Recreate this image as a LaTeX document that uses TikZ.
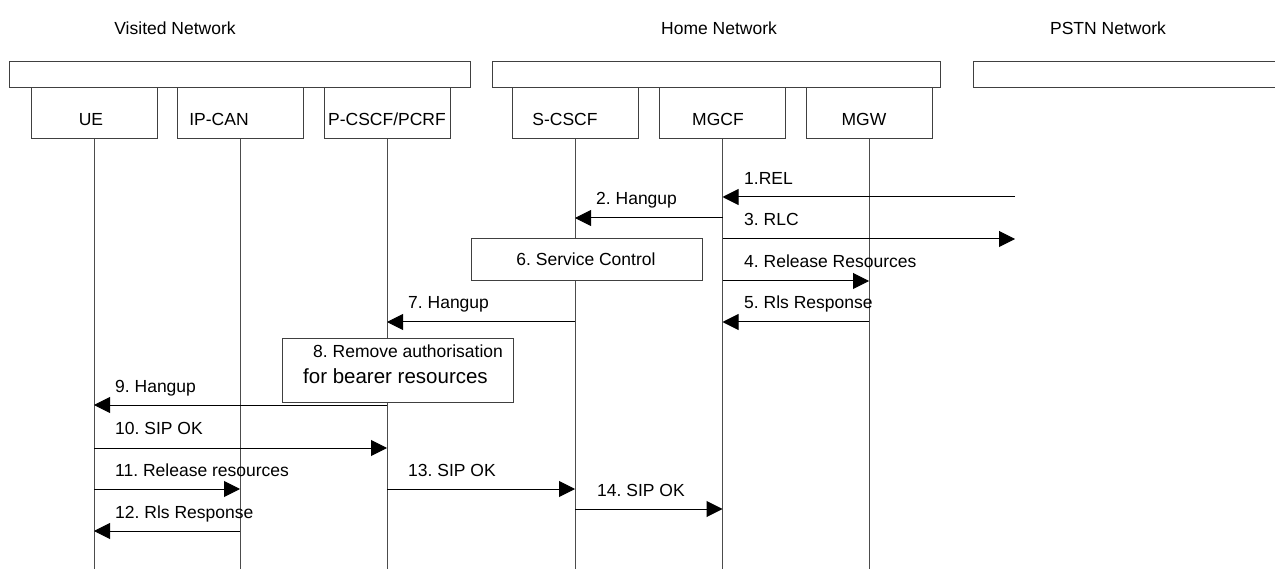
\documentclass[tikz,border=0pt]{standalone}
\usepackage{fontspec}
\setmainfont{Liberation Sans}
\usetikzlibrary{arrows.meta}
\frenchspacing
\begin{document}
\begin{tikzpicture}[x=1pt,y=-1pt,
  every node/.style={font=\fontsize{17.5}{21}\selectfont, inner sep=0pt},
  bar/.style={draw=black!75, line width=1pt, fill=white},
  entity/.style={draw=black!75, line width=1pt, fill=white, minimum width=126pt, minimum height=51pt},
  life/.style={draw=black!70, line width=1pt},
  msg/.style={draw=black, line width=1pt, -{Triangle[length=16pt,width=16pt]}},
  lbl/.style={anchor=base west},
  procbox/.style={draw=black!75, line width=1pt, fill=white, anchor=north west}]
\useasboundingbox (0,0) rectangle (1275,569);

% network titles
\node[anchor=base] (vnet) at (175,35) {Visited Network};
\node[anchor=base] (hnet) at (719,35) {Home Network};
\node[anchor=base] (pnet) at (1108,35) {PSTN Network};

% network bars
\draw[bar] (9,62) rectangle (470,88);
\draw[bar] (492,62) rectangle (940,88);
\draw[bar] (973,62) rectangle (1285,88);

% entity boxes
\node[entity] (ue) at (94,113.5) {};
\node[entity] (ipcan) at (240,113.5) {};
\node[entity] (pcscf) at (387,113.5) {};
\node[entity] (scscf) at (575,113.5) {};
\node[entity] (mgcf) at (722.5,113.5) {};
\node[entity] (mgw) at (869,113.5) {};
\node[anchor=base] (uet) at (91,126) {UE};
\node[anchor=base] (ipcant) at (219,126) {IP-CAN};
\node[anchor=base] (pcscft) at (387,126) {P-CSCF/PCRF};
\node[anchor=base] (scscft) at (565,126) {S-CSCF};
\node[anchor=base] (mgcft) at (718,126) {MGCF};
\node[anchor=base] (mgwt) at (864,126) {MGW};

% lifelines
\foreach \e in {ue,ipcan,pcscf,scscf,mgcf,mgw}
  \draw[life] (\e.south) -- (\e.south |- 0,570);

% free ends in the PSTN
\coordinate (pstnA) at (1015,197);
\coordinate (pstnB) at (1015,239);

% 1
\draw[msg] (pstnA) -- (mgcf |- pstnA);
\node[lbl] (l1) at (744,185) {1.REL};
% 2
\draw[msg] (mgcf |- 0,218) -- (scscf |- 0,218);
\node[lbl] (l2) at (596,205) {2. Hangup};
% 3
\draw[msg] (mgcf |- pstnB) -- (pstnB);
\node[lbl] (l3) at (744,226) {3. RLC};
% 6 box
\node[procbox, minimum width=231pt, minimum height=42pt] (svc) at (471,238) {};
\node[anchor=base] (svct) at (586,266) {6. Service Control};
% 4
\draw[msg] (mgcf |- 0,281) -- (mgw |- 0,281);
\node[lbl] (l4) at (744,268) {4. Release Resources};
% 5
\draw[msg] (mgw |- 0,322) -- (mgcf |- 0,322);
\node[lbl] (l5) at (744,309) {5. Rls Response};
% 7
\draw[msg] (scscf |- 0,322) -- (pcscf |- 0,322);
\node[lbl] (l7) at (408,309) {7. Hangup};
% 8 box
\node[procbox, minimum width=231pt, minimum height=64pt] (auth) at (282,338) {};
\node[lbl] (autht1) at (313,358) {8. Remove authorisation};
\node[lbl, font=\fontsize{20.5}{24}\selectfont] (autht2) at (303,384) {for bearer resources};
% 9
\draw[msg] (pcscf |- 0,405) -- (ue |- 0,405);
\node[lbl] (l9) at (115,392) {9. Hangup};
% 10
\draw[msg] (ue |- 0,448) -- (pcscf |- 0,448);
\node[lbl] (l10) at (115,434) {10. SIP OK};
% 11
\draw[msg] (ue |- 0,489) -- (ipcan |- 0,489);
\node[lbl] (l11) at (115,476) {11. Release resources};
% 12
\draw[msg] (ipcan |- 0,531) -- (ue |- 0,531);
\node[lbl] (l12) at (115,518) {12. Rls Response};
% 13
\draw[msg] (pcscf |- 0,489) -- (scscf |- 0,489);
\node[lbl] (l13) at (408,476) {13. SIP OK};
% 14
\draw[msg] (scscf |- 0,509) -- (mgcf |- 0,509);
\node[lbl] (l14) at (597,496) {14. SIP OK};
\end{tikzpicture}
\end{document}
